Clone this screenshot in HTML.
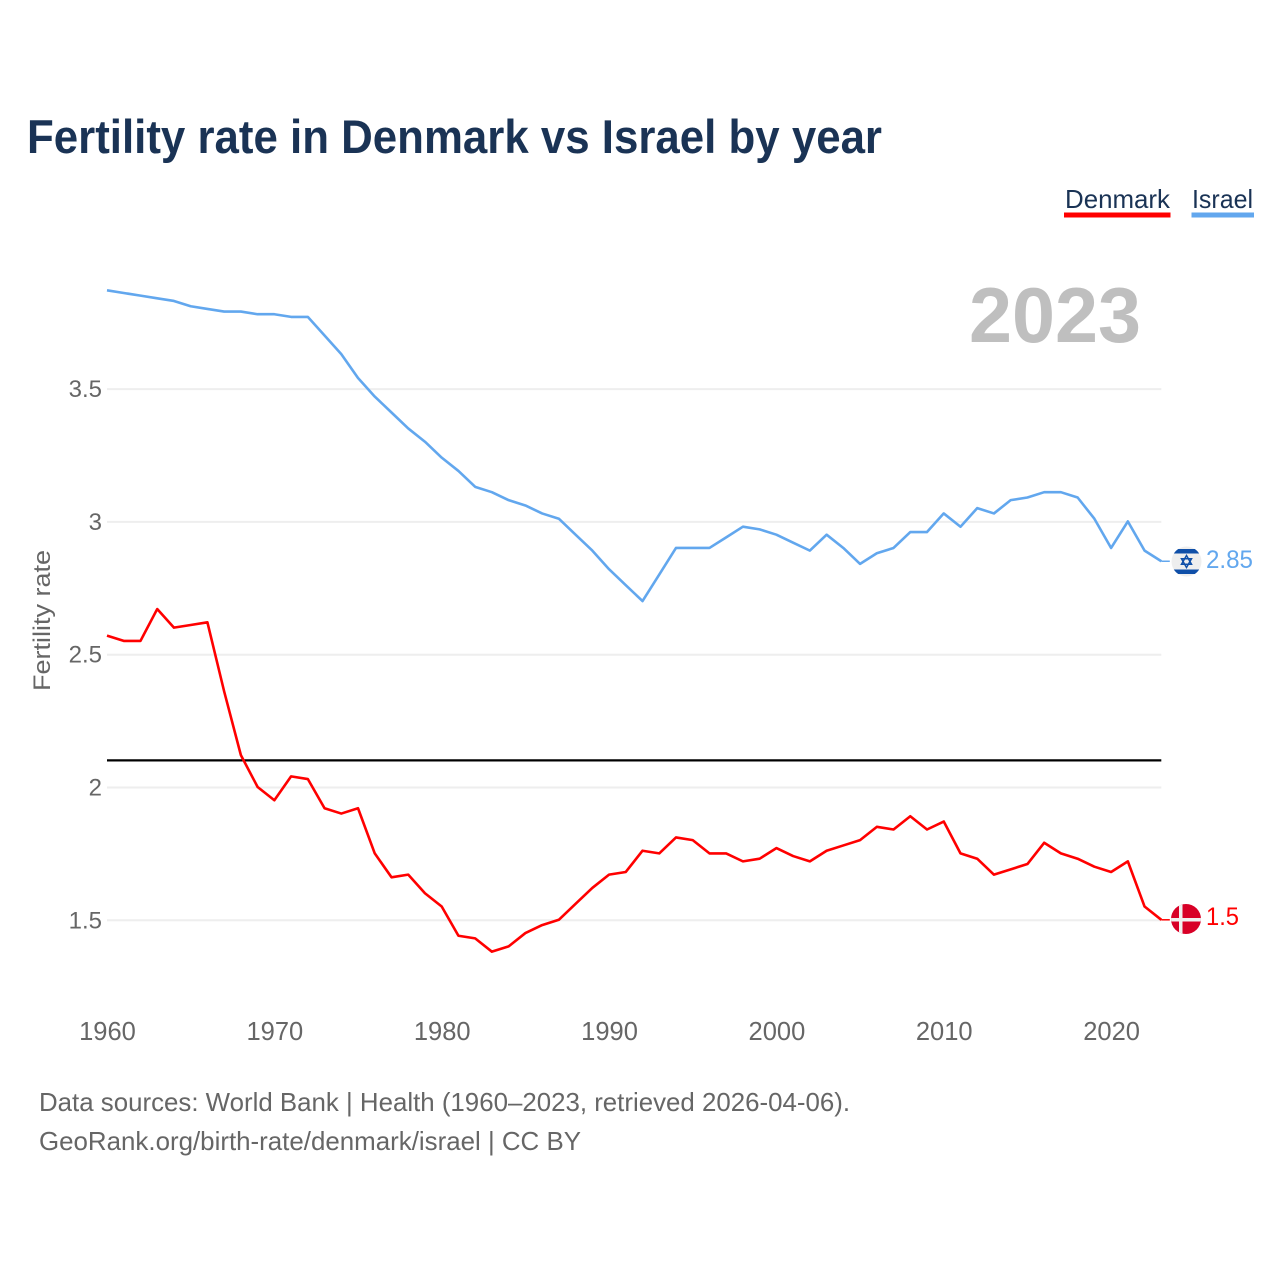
<!DOCTYPE html>
<html lang="en">
<head>
<meta charset="utf-8">
<title>Fertility rate in Denmark vs Israel by year</title>
<style>
html,body{margin:0;padding:0;background:#fff;width:1280px;height:1280px;overflow:hidden}
svg{display:block;font-family:"Liberation Sans",sans-serif}
</style>
</head>
<body>
<svg id="chart" width="1280" height="1280" viewBox="0 0 1280 1280" xmlns="http://www.w3.org/2000/svg">
  <defs>
    <clipPath id="clip-il"><circle cx="1186.5" cy="561.5" r="15"/></clipPath>
    <clipPath id="clip-dk"><circle cx="1186" cy="919" r="15"/></clipPath>
  </defs>
  <rect width="1280" height="1280" fill="#fff"/>
  <text x="27" y="153" font-size="47" font-weight="700" fill="#1a3355" textLength="855" lengthAdjust="spacingAndGlyphs">Fertility rate in Denmark vs Israel by year</text>

  <g>
    <text x="1065" y="208" font-size="26" fill="#1a3355" textLength="105" lengthAdjust="spacingAndGlyphs">Denmark</text>
    <rect x="1064" y="212.5" width="106.5" height="5" fill="#ff0000"/>
  </g>
  <g>
    <text x="1192" y="208" font-size="26" fill="#1a3355" textLength="61" lengthAdjust="spacingAndGlyphs">Israel</text>
    <rect x="1191.5" y="212.5" width="62.5" height="5" fill="#62a7ee"/>
  </g>

  <text x="969" y="342" font-size="78" font-weight="700" fill="#bfbfbf" textLength="172" lengthAdjust="spacingAndGlyphs">2023</text>

  <g id="y-grid"></g>
  <g id="y-ticks"></g>
  <g id="x-ticks"></g>
  <line id="ref-line" stroke="#000" stroke-width="2.2"/>
  <line id="leader-israel" stroke="#62a7ee" stroke-width="1.5"/>
  <line id="leader-denmark" stroke="#ff0000" stroke-width="1.5"/>
  <path id="line-israel" fill="none" stroke="#62a7ee" stroke-width="2.6" stroke-linejoin="round"/>
  <path id="line-denmark" fill="none" stroke="#ff0000" stroke-width="2.6" stroke-linejoin="round"/>

  <text transform="translate(50 691) rotate(-90)" font-size="24" fill="#666" textLength="141" lengthAdjust="spacingAndGlyphs">Fertility rate</text>

  <g clip-path="url(#clip-il)">
    <rect x="1170" y="545" width="34" height="34" fill="#eeeeee"/>
    <rect x="1170" y="549" width="34" height="4.5" fill="#0f4fa8"/>
    <rect x="1170" y="569.5" width="34" height="4.5" fill="#0f4fa8"/>
    <polygon points="1186.5,555.5 1191.5,564.2 1181.5,564.2" fill="none" stroke="#0f4fa8" stroke-width="1.5"/>
    <polygon points="1186.5,567.5 1191.5,558.8 1181.5,558.8" fill="none" stroke="#0f4fa8" stroke-width="1.5"/>
  </g>
  <text id="end-label-israel" x="1206" y="568" font-size="25" fill="#62a7ee" textLength="47" lengthAdjust="spacingAndGlyphs">2.85</text>

  <g clip-path="url(#clip-dk)">
    <rect x="1170" y="903" width="34" height="32" fill="#d80027"/>
    <rect x="1179" y="903" width="3.5" height="32" fill="#f0f0f0"/>
    <rect x="1170" y="918" width="34" height="3.5" fill="#f0f0f0"/>
  </g>
  <text id="end-label-denmark" x="1206" y="925" font-size="25" fill="#ff0000" textLength="33" lengthAdjust="spacingAndGlyphs">1.5</text>

  <text x="39" y="1111" font-size="26" fill="#666" textLength="811" lengthAdjust="spacingAndGlyphs">Data sources: World Bank | Health (1960–2023, retrieved 2026-04-06).</text>
  <text x="39" y="1150" font-size="26" fill="#666" textLength="542" lengthAdjust="spacingAndGlyphs">GeoRank.org/birth-rate/denmark/israel | CC BY</text>
</svg>
<script>
const startYear = 1960;
const denmarkValues = [2.57,2.55,2.55,2.67,2.60,2.61,2.62,2.36,2.12,2.00,1.95,2.04,2.03,1.92,1.90,1.92,1.75,1.66,1.67,1.60,1.55,1.44,1.43,1.38,1.40,1.45,1.48,1.50,1.56,1.62,1.67,1.68,1.76,1.75,1.81,1.80,1.75,1.75,1.72,1.73,1.77,1.74,1.72,1.76,1.78,1.80,1.85,1.84,1.89,1.84,1.87,1.75,1.73,1.67,1.69,1.71,1.79,1.75,1.73,1.70,1.68,1.72,1.55,1.50];
const israelValues = [3.87,3.86,3.85,3.84,3.83,3.81,3.80,3.79,3.79,3.78,3.78,3.77,3.77,3.70,3.63,3.54,3.47,3.41,3.35,3.30,3.24,3.19,3.13,3.11,3.08,3.06,3.03,3.01,2.95,2.89,2.82,2.76,2.70,2.80,2.90,2.90,2.90,2.94,2.98,2.97,2.95,2.92,2.89,2.95,2.90,2.84,2.88,2.90,2.96,2.96,3.03,2.98,3.05,3.03,3.08,3.09,3.11,3.11,3.09,3.01,2.90,3.00,2.89,2.85];
const yTickValues = [1.5,2,2.5,3,3.5];
const yTickLabels = ["1.5","2","2.5","3","3.5"];
const xTickValues = [1960,1970,1980,1990,2000,2010,2020];
const replacementRate = [2.1];

const NS = "http://www.w3.org/2000/svg";
function xScale(year){ return 107 + (year - 1960) * 16.735; }
function yScale(v){ return 787.5 - (v - 2) * 265.6; }
function seriesY(v){ return yScale(v) - 0.5; }
function linePath(values){
  return values.map(function(v, i){
    return (i ? "L" : "M") + xScale(startYear + i).toFixed(2) + " " + seriesY(v).toFixed(2);
  }).join(" ");
}
function placeLeader(id, values){
  const leader = document.getElementById(id);
  const lastIndex = values.length - 1;
  const y = seriesY(values[lastIndex]);
  leader.setAttribute("x1", xScale(startYear + lastIndex));
  leader.setAttribute("x2", xScale(startYear + lastIndex) + 8.5);
  leader.setAttribute("y1", y);
  leader.setAttribute("y2", y);
}

document.getElementById("line-denmark").setAttribute("d", linePath(denmarkValues));
document.getElementById("line-israel").setAttribute("d", linePath(israelValues));
placeLeader("leader-denmark", denmarkValues);
placeLeader("leader-israel", israelValues);

const ref = document.getElementById("ref-line");
ref.setAttribute("x1", xScale(1960));
ref.setAttribute("x2", xScale(2023));
ref.setAttribute("y1", yScale(replacementRate[0]) - 0.6);
ref.setAttribute("y2", yScale(replacementRate[0]) - 0.6);

const gridGroup = document.getElementById("y-grid");
const yTickGroup = document.getElementById("y-ticks");
yTickValues.forEach(function(v, i){
  const ln = document.createElementNS(NS, "line");
  
  
  ln.setAttribute("x1", xScale(1960));
  ln.setAttribute("x2", xScale(2023));
  ln.setAttribute("y1", yScale(v));
  ln.setAttribute("y2", yScale(v));
  ln.setAttribute("stroke", "#eeeeee");
  ln.setAttribute("stroke-width", "2");
  gridGroup.appendChild(ln);

  const t = document.createElementNS(NS, "text");
  
  
  t.setAttribute("x", 102);
  t.setAttribute("y", yScale(v) + 8);
  t.setAttribute("text-anchor", "end");
  t.setAttribute("font-size", "24");
  t.setAttribute("fill", "#666");
  t.textContent = yTickLabels[i];
  yTickGroup.appendChild(t);
});

const xTickGroup = document.getElementById("x-ticks");
xTickValues.forEach(function(year){
  const t = document.createElementNS(NS, "text");
  
  
  t.setAttribute("x", xScale(year) + 0.5);
  t.setAttribute("y", 1040);
  t.setAttribute("text-anchor", "middle");
  t.setAttribute("font-size", "25.5");
  t.setAttribute("fill", "#666");
  t.textContent = String(year);
  xTickGroup.appendChild(t);
});
</script>
</body>
</html>
